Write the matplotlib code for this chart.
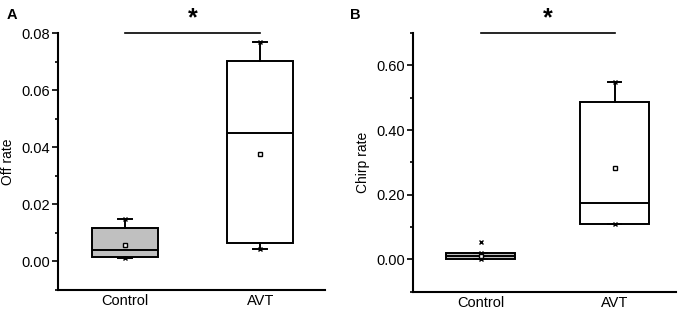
import matplotlib
matplotlib.use("Agg")
import matplotlib.pyplot as plt
from matplotlib.ticker import MultipleLocator, FormatStrFormatter

plt.rcParams["font.family"] = ["Liberation Sans", "DejaVu Sans"]

GROUPS = ["Control", "AVT"]
FILLS = ["#c0c0c0", "white"]

# Panel A: Off rate
off_q1 = [0.0014, 0.0064]
off_med = [0.0040, 0.0449]
off_q3 = [0.0116, 0.0702]
off_lo = [0.0013, 0.0044]
off_hi = [0.0148, 0.0767]
off_mean = [0.0059, 0.0376]

# Panel B: Chirp rate
chirp_q1 = [0.002, 0.110]
chirp_med = [0.010, 0.174]
chirp_q3 = [0.019, 0.488]
chirp_lo = [0.002, 0.110]
chirp_hi = [0.019, 0.549]
chirp_mean = [0.010, 0.283]
chirp_outlier = [0.055, None]


def draw_panel(ax, q1, med, q3, lo, hi, mean, ylim, major, minor, fmt,
               ylabel, bar_y, width, outliers=None):
    stats = []
    for i in range(len(GROUPS)):
        stats.append({"q1": q1[i], "med": med[i], "q3": q3[i],
                      "whislo": lo[i], "whishi": hi[i], "mean": mean[i],
                      "fliers": []})
    bp = ax.bxp(stats, positions=[1, 2], widths=width, showmeans=True,
                patch_artist=True, showfliers=False, capwidths=0.1,
                boxprops=dict(edgecolor="black", linewidth=1.4),
                medianprops=dict(color="black", linewidth=1.4),
                whiskerprops=dict(color="black", linewidth=1.4),
                capprops=dict(color="black", linewidth=1.4),
                meanprops=dict(marker="s", markersize=3.5,
                               markerfacecolor="white",
                               markeredgecolor="black",
                               markeredgewidth=1.0))
    for patch, fc in zip(bp["boxes"], FILLS):
        patch.set_facecolor(fc)

    # 1%/99% style markers at whisker ends
    ax.plot([1, 2], hi, ls="none", marker="x", ms=3.5, mew=1.0, color="black")
    ax.plot([1, 2], lo, ls="none", marker="x", ms=3.5, mew=1.0, color="black")
    if outliers:
        for pos, val in zip([1, 2], outliers):
            if val is not None:
                ax.plot(pos, val, ls="none", marker="x", ms=3.5, mew=1.0,
                        color="black")

    ax.set_ylim(*ylim)
    ax.yaxis.set_major_locator(MultipleLocator(major))
    ax.yaxis.set_minor_locator(MultipleLocator(minor))
    ax.yaxis.set_major_formatter(FormatStrFormatter(fmt))
    ax.set_xticks([1, 2])
    ax.set_xticklabels(GROUPS, fontsize=10.5)
    ax.tick_params(axis="x", length=0, pad=3)
    ax.tick_params(axis="y", which="major", length=4, width=1.2,
                   labelsize=10.5, direction="out", pad=2)
    ax.tick_params(axis="y", which="minor", length=2.5, width=1.2,
                   direction="out")
    ax.spines["top"].set_visible(False)
    ax.spines["right"].set_visible(False)
    for s in ("left", "bottom"):
        ax.spines[s].set_linewidth(1.5)
    ax.set_ylabel(ylabel, fontsize=10, labelpad=4)

    # significance bar
    ax.plot([1, 2], [bar_y, bar_y], color="black", lw=1.2, clip_on=False)
    ax.annotate("*", xy=(1.5, bar_y), xytext=(0, 2),
                textcoords="offset points", ha="center", va="bottom",
                fontsize=18, fontweight="bold", annotation_clip=False)


fig = plt.figure(figsize=(6.86, 3.12), dpi=100)
axA = fig.add_axes([0.0845, 0.0705, 0.3895, 0.8235])
axB = fig.add_axes([0.602, 0.065, 0.383, 0.829])

draw_panel(axA, off_q1, off_med, off_q3, off_lo, off_hi, off_mean,
           (-0.01, 0.08), 0.02, 0.01, "%.2f", "Off rate", 0.08, 0.49)
axA.set_xlim(0.504, 2.48)

draw_panel(axB, chirp_q1, chirp_med, chirp_q3, chirp_lo, chirp_hi,
           chirp_mean, (-0.1, 0.7), 0.2, 0.1, "%.2f", "Chirp rate",
           0.70, 0.52, outliers=chirp_outlier)
axB.set_xlim(0.495, 2.457)

fig.text(0.010, 0.94, "A", fontsize=10.5, fontweight="bold")
fig.text(0.510, 0.94, "B", fontsize=10.5, fontweight="bold")

fig.savefig("out.png", dpi=100)
